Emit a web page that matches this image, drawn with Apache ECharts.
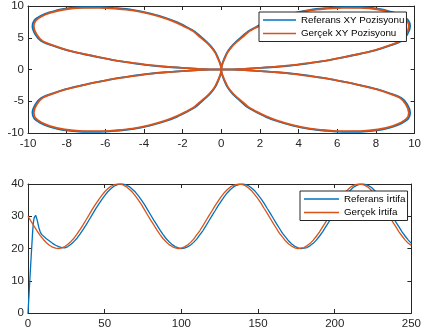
<!DOCTYPE html>
<html>
<head>
<meta charset="utf-8">
<script src="https://cdn.jsdelivr.net/npm/echarts@6/dist/echarts.min.js"></script>
<style>
html,body{margin:0;padding:0;background:#fff;}
#c{width:424px;height:332px;}
</style>
</head>
<body>
<div id="c"></div>
<script>
// ---- Top plot: XY position (one continuous path through four lobes) ----
var xyRealUR = [[0,0],[0.6,0.03],[1.2,0.1],[2.0,0.25],[2.9,0.45],[3.8,0.72],[4.6,1.05],[5.5,1.45],[6.3,1.92],[7.2,2.5],[8.0,3.1],[8.7,3.8],[9.25,4.5],[9.55,5.5],[9.7,6.8],[9.6,7.7],[9.3,8.35],[8.85,8.9],[8.1,9.45],[7.2,9.7],[6.3,9.72],[5.4,9.55],[4.6,9.3],[3.7,8.75],[2.9,8.05],[2.3,7.35],[1.8,6.6],[1.4,5.9],[1.1,5.1],[0.8,4.35],[0.55,3.6],[0.33,2.7],[0.17,1.7],[0.05,0.8],[0,0]];
var xyRealLR = [[0,0],[0.05,-0.8],[0.17,-1.7],[0.33,-2.7],[0.55,-3.6],[0.8,-4.35],[1.1,-5.1],[1.4,-5.9],[1.8,-6.6],[2.3,-7.35],[2.9,-8.05],[3.7,-8.75],[4.6,-9.3],[5.4,-9.55],[6.3,-9.72],[7.2,-9.7],[8.1,-9.45],[8.85,-8.9],[9.3,-8.35],[9.6,-7.7],[9.7,-6.8],[9.55,-5.5],[9.25,-4.5],[8.7,-3.8],[8.0,-3.1],[7.2,-2.5],[6.3,-1.92],[5.5,-1.45],[4.6,-1.05],[3.8,-0.72],[2.9,-0.45],[2.0,-0.25],[1.2,-0.1],[0.6,-0.03],[0,0]];
var xyRealLL = [[0,0],[-0.6,-0.03],[-1.2,-0.1],[-2.0,-0.25],[-2.9,-0.45],[-3.8,-0.72],[-4.6,-1.05],[-5.5,-1.45],[-6.3,-1.92],[-7.2,-2.5],[-8.0,-3.1],[-8.7,-3.8],[-9.25,-4.5],[-9.55,-5.5],[-9.7,-6.8],[-9.6,-7.7],[-9.3,-8.35],[-8.85,-8.9],[-8.1,-9.45],[-7.2,-9.7],[-6.3,-9.72],[-5.4,-9.55],[-4.6,-9.3],[-3.7,-8.75],[-2.9,-8.05],[-2.3,-7.35],[-1.8,-6.6],[-1.4,-5.9],[-1.1,-5.1],[-0.8,-4.35],[-0.55,-3.6],[-0.33,-2.7],[-0.17,-1.7],[-0.05,-0.8],[0,0]];
var xyRealUL = [[0,0],[-0.05,0.8],[-0.17,1.7],[-0.33,2.7],[-0.55,3.6],[-0.8,4.35],[-1.1,5.1],[-1.4,5.9],[-1.8,6.6],[-2.3,7.35],[-2.9,8.05],[-3.7,8.75],[-4.6,9.3],[-5.4,9.55],[-6.3,9.72],[-7.2,9.7],[-8.1,9.45],[-8.85,8.9],[-9.3,8.35],[-9.6,7.7],[-9.7,6.8],[-9.55,5.5],[-9.25,4.5],[-8.7,3.8],[-8.0,3.1],[-7.2,2.5],[-6.3,1.92],[-5.5,1.45],[-4.6,1.05],[-3.8,0.72],[-2.9,0.45],[-2.0,0.25],[-1.2,0.1],[-0.6,0.03],[0,0]];

var xyRefUR = [[0,0],[0.6,0.03],[1.2,0.1],[2.0,0.24],[2.9,0.43],[3.8,0.7],[4.6,1.02],[5.5,1.42],[6.3,1.9],[7.2,2.48],[8.05,3.1],[8.75,3.8],[9.32,4.5],[9.62,5.5],[9.77,6.8],[9.67,7.75],[9.36,8.42],[8.9,8.98],[8.15,9.55],[7.2,9.8],[6.3,9.82],[5.4,9.65],[4.6,9.4],[3.7,8.85],[2.9,8.15],[2.3,7.45],[1.8,6.7],[1.38,6.0],[1.07,5.2],[0.77,4.4],[0.52,3.6],[0.3,2.7],[0.15,1.7],[0.04,0.8],[0,0]];
var xyRefLR = [[0,0],[0.04,-0.8],[0.15,-1.7],[0.3,-2.7],[0.52,-3.6],[0.77,-4.4],[1.07,-5.2],[1.38,-6.0],[1.8,-6.7],[2.3,-7.45],[2.9,-8.15],[3.7,-8.85],[4.6,-9.4],[5.4,-9.65],[6.3,-9.82],[7.2,-9.8],[8.15,-9.55],[8.9,-8.98],[9.36,-8.42],[9.67,-7.75],[9.77,-6.8],[9.62,-5.5],[9.32,-4.5],[8.75,-3.8],[8.05,-3.1],[7.2,-2.48],[6.3,-1.9],[5.5,-1.42],[4.6,-1.02],[3.8,-0.7],[2.9,-0.43],[2.0,-0.24],[1.2,-0.1],[0.6,-0.03],[0,0]];
var xyRefLL = [[0,0],[-0.6,-0.03],[-1.2,-0.1],[-2.0,-0.24],[-2.9,-0.43],[-3.8,-0.7],[-4.6,-1.02],[-5.5,-1.42],[-6.3,-1.9],[-7.2,-2.48],[-8.05,-3.1],[-8.75,-3.8],[-9.32,-4.5],[-9.62,-5.5],[-9.77,-6.8],[-9.67,-7.75],[-9.36,-8.42],[-8.9,-8.98],[-8.15,-9.55],[-7.2,-9.8],[-6.3,-9.82],[-5.4,-9.65],[-4.6,-9.4],[-3.7,-8.85],[-2.9,-8.15],[-2.3,-7.45],[-1.8,-6.7],[-1.38,-6.0],[-1.07,-5.2],[-0.77,-4.4],[-0.52,-3.6],[-0.3,-2.7],[-0.15,-1.7],[-0.04,-0.8],[0,0]];
var xyRefUL = [[0,0],[-0.04,0.8],[-0.15,1.7],[-0.3,2.7],[-0.52,3.6],[-0.77,4.4],[-1.07,5.2],[-1.38,6.0],[-1.8,6.7],[-2.3,7.45],[-2.9,8.15],[-3.7,8.85],[-4.6,9.4],[-5.4,9.65],[-6.3,9.82],[-7.2,9.8],[-8.15,9.55],[-8.9,8.98],[-9.36,8.42],[-9.67,7.75],[-9.77,6.8],[-9.62,5.5],[-9.32,4.5],[-8.75,3.8],[-8.05,3.1],[-7.2,2.48],[-6.3,1.9],[-5.5,1.42],[-4.6,1.02],[-3.8,0.7],[-2.9,0.43],[-2.0,0.24],[-1.2,0.1],[-0.6,0.03],[0,0]];

// ---- Bottom plot: altitude ----
var altTime = [0,2,4,6,8,10,12,14,16,18,20,22,24,26,28,30,32,34,36,38,40,42,44,46,48,50,52,54,56,58,60,62,64,66,68,70,72,74,76,78,80,82,84,86,88,90,92,94,96,98,100,102,104,106,108,110,112,114,116,118,120,122,124,126,128,130,132,134,136,138,140,142,144,146,148,150,152,154,156,158,160,162,164,166,168,170,172,174,176,178,180,182,184,186,188,190,192,194,196,198,200,202,204,206,208,210,212,214,216,218,220,222,224,226,228,230,232,234,236,238,240,242,244,246,248,250];
var altReal = [30.0,28.4,26.9,25.4,24.0,22.8,21.8,21.0,20.4,20.1,20.0,20.2,20.6,21.3,22.2,23.2,24.5,25.9,27.4,29.0,30.6,32.2,33.7,35.1,36.4,37.6,38.5,39.3,39.7,40.0,40.0,39.7,39.2,38.4,37.5,36.3,35.0,33.6,32.0,30.4,28.8,27.3,25.8,24.4,23.1,22.1,21.2,20.6,20.2,20.0,20.1,20.5,21.1,21.9,22.9,24.2,25.5,27.0,28.6,30.2,31.7,33.3,34.7,36.1,37.3,38.3,39.1,39.6,39.9,40.0,39.8,39.4,38.7,37.8,36.6,35.4,34.0,32.4,30.9,29.3,27.7,26.2,24.7,23.5,22.3,21.4,20.7,20.2,20.0,20.1,20.3,20.9,21.6,22.6,23.8,25.1,26.6,28.1,29.7,31.3,32.9,34.4,35.7,37.0,38.0,38.9,39.5,39.9,40.0,39.9,39.5,38.9,38.0,37.0,35.7,34.3,32.9,31.3,29.7,28.1,26.6,25.1,23.8,22.6,21.6,20.9];
var refTime = [0,1,2,3,3.5,4,5,5.5,6,7,8,9,10,12,14,16,18,20,22,24,26,28,30,32,34,36,38,40,42,44,46,48,50,52,54,56,58,60,62,64,66,68,70,72,74,76,78,80,82,84,86,88,90,92,94,96,98,100,102,104,106,108,110,112,114,116,118,120,122,124,126,128,130,132,134,136,138,140,142,144,146,148,150,152,154,156,158,160,162,164,166,168,170,172,174,176,178,180,182,184,186,188,190,192,194,196,198,200,202,204,206,208,210,212,214,216,218,220,222,224,226,228,230,232,234,236,238,240,242,244,246,248,250];
var refAlt = [0,8.5,17,25,28,29.5,30.3,30.2,28.8,26.6,25.1,24.3,23.8,23.0,22.3,21.6,21.0,20.6,20.3,20.2,20.6,21.3,22.2,23.2,24.5,25.9,27.4,29.0,30.6,32.2,33.7,35.1,36.4,37.6,38.5,39.3,39.7,40.0,40.0,39.7,39.2,38.4,37.5,36.3,35.0,33.6,32.0,30.4,28.8,27.3,25.8,24.4,23.1,22.1,21.2,20.6,20.2,20.0,20.1,20.5,21.1,21.9,22.9,24.2,25.5,27.0,28.6,30.2,31.7,33.3,34.7,36.1,37.3,38.3,39.1,39.6,39.9,40.0,39.8,39.4,38.7,37.8,36.6,35.4,34.0,32.4,30.9,29.3,27.7,26.2,24.7,23.5,22.3,21.4,20.7,20.2,20.0,20.1,20.3,20.9,21.6,22.6,23.8,25.1,26.6,28.1,29.7,31.3,32.9,34.4,35.7,37.0,38.0,38.9,39.5,39.9,40.0,39.9,39.5,38.9,38.0,37.0,35.7,34.3,32.9,31.3,29.7,28.1,26.6,25.1,23.8,22.6,21.6];

var topXTicks = {min:-10, max:10, interval:2};
var topYTicks = {min:-10, max:10, interval:5};
var botXTicks = {min:0, max:250, interval:50};
var botYTicks = {min:0, max:40, interval:10};

var legendTop = ['Referans XY Pozisyonu', 'Gerçek XY Pozisyonu'];
var legendBot = ['Referans İrtifa', 'Gerçek İrtifa'];

var BLUE = '#0072BD', ORANGE = '#D95319', AX = '#262626';
var FONT = 'Liberation Sans, Arial, Helvetica, sans-serif';

function zip(a, b) { return a.map(function (v, i) { return [v, b[i]]; }); }

function axis(pos, grid, t, show) {
  return {
    type: 'value', position: pos, gridIndex: grid,
    min: t.min, max: t.max, interval: t.interval,
    axisLine: {show: true, onZero: false, lineStyle: {color: AX, width: 1}},
    axisTick: {show: true, inside: true, length: 4, lineStyle: {color: AX, width: 1}},
    axisLabel: {show: show, color: AX, fontSize: 11.5, fontFamily: FONT, margin: (pos === 'left' ? 4 : 5)},
    splitLine: {show: false}
  };
}

function legend(names, left, top, w) {
  return {
    data: names, orient: 'vertical', left: left, top: top,
    icon: 'rect', itemWidth: w, itemHeight: 1.6, itemGap: 1.5,
    padding: [2, 2, 2, 4],
    backgroundColor: '#fff', borderColor: AX, borderWidth: 1, borderRadius: 0,
    textStyle: {fontSize: 9.8, fontFamily: FONT, color: '#000', lineHeight: 12}
  };
}

var chart = echarts.init(document.getElementById('c'), null, {renderer: 'canvas'});
chart.setOption({
  animation: false,
  backgroundColor: '#fff',
  grid: [
    {left: 28, top: 4, width: 388, height: 129},
    {left: 28, top: 184, width: 388, height: 129}
  ],
  xAxis: [
    axis('bottom', 0, topXTicks, true),
    axis('top', 0, topXTicks, false),
    axis('bottom', 1, botXTicks, true),
    axis('top', 1, botXTicks, false)
  ],
  yAxis: [
    axis('left', 0, topYTicks, true),
    axis('right', 0, topYTicks, false),
    axis('left', 1, botYTicks, true),
    axis('right', 1, botYTicks, false)
  ],
  legend: [
    legend(legendTop, 259, 12, 33),
    legend(legendBot, 300, 191, 35)
  ],
  series: [
    {
      name: legendTop[0], type: 'line', xAxisIndex: 0, yAxisIndex: 0,
      data: xyRefUR.concat(xyRefLR, xyRefLL, xyRefUL),
      symbol: 'none', smooth: 0.3, lineStyle: {color: BLUE, width: 1.8}, itemStyle: {color: BLUE}
    },
    {
      name: legendTop[1], type: 'line', xAxisIndex: 0, yAxisIndex: 0,
      data: xyRealUR.concat(xyRealLR, xyRealLL, xyRealUL),
      symbol: 'none', smooth: 0.3, lineStyle: {color: ORANGE, width: 1.8}, itemStyle: {color: ORANGE}
    },
    {
      name: legendBot[0], type: 'line', xAxisIndex: 2, yAxisIndex: 2,
      data: zip(refTime, refAlt),
      symbol: 'none', lineStyle: {color: BLUE, width: 1.3}, itemStyle: {color: BLUE}
    },
    {
      name: legendBot[1], type: 'line', xAxisIndex: 2, yAxisIndex: 2,
      data: zip(altTime, altReal),
      symbol: 'none', lineStyle: {color: ORANGE, width: 1.3}, itemStyle: {color: ORANGE}
    }
  ]
});
</script>
</body>
</html>
